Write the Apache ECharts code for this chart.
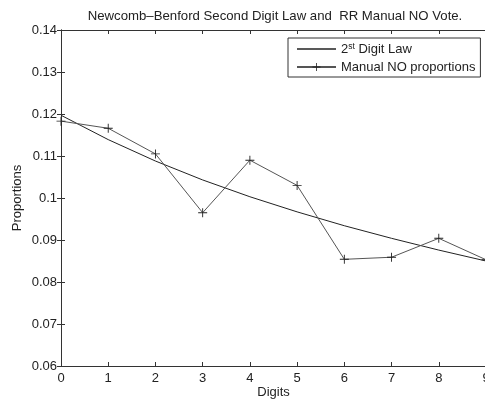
<!DOCTYPE html>
<html>
<head>
<meta charset="utf-8">
<script src="https://cdn.jsdelivr.net/npm/echarts@6/dist/echarts.min.js"></script>
<style>html,body{margin:0;padding:0;background:#fff}#c{width:485px;height:401px}</style>
</head>
<body>
<div id="c"></div>
<script>
var digits = ['0','1','2','3','4','5','6','7','8','9'];
var lawValues = [0.1197, 0.1139, 0.1088, 0.1043, 0.1003, 0.0967, 0.0934, 0.0904, 0.0876, 0.0850];
var noValues = [0.1183, 0.1166, 0.1105, 0.0965, 0.1090, 0.1030, 0.0854, 0.0859, 0.0904, 0.0853];
var yTicks = [0.06, 0.07, 0.08, 0.09, 0.1, 0.11, 0.12, 0.13, 0.14];

var FONT = 'Liberation Sans, Arial, sans-serif';
var chart = echarts.init(document.getElementById('c'));
var plus = 'path://M0,4.5h10v1h-10zM4.5,0h1v10h-1z';
function pairs(v){ return v.map(function(y,i){ return [i, y]; }); }
var axisCol = '#333';
var txt = '#222';
chart.setOption({
  animation: false,
  backgroundColor: '#fff',
  title: {
    text: 'Newcomb\u2013Benford Second Digit Law and  RR Manual NO Vote.',
    left: 270, top: 5, textAlign: 'center',
    textStyle: {fontFamily: FONT, fontSize: 13.2, fontWeight: 'normal', color: txt}
  },
  grid: {left: 61, right: -1, top: 30, bottom: 35, outerBoundsMode: 'none', containLabel: false},
  legend: {
    orient: 'vertical', left: 288, top: 38,
    padding: [4, 5, 3, 8], itemGap: 4,
    borderColor: '#333', borderWidth: 1, borderRadius: 0,
    backgroundColor: '#fff',
    itemWidth: 39, itemHeight: 10,
    selectedMode: false,
    data: [{name: 'law', icon: 'path://M0,0h40v1.4h-40z'}, {name: 'no'}],
    formatter: function(n){
      return n === 'law' ? '{a|2}{s|st}{a| Digit Law}' : '{a|Manual NO proportions}';
    },
    textStyle: {
      fontFamily: FONT, fontSize: 13, color: txt, lineHeight: 14,
      rich: {
        a: {fontFamily: FONT, fontSize: 13, color: txt, lineHeight: 14},
        s: {fontFamily: FONT, fontSize: 8.5, color: txt, lineHeight: 8, verticalAlign: 'top'}
      }
    }
  },
  xAxis: [{
    type: 'value', min: 0, max: 9, interval: 1, position: 'bottom',
    name: 'Digits', nameLocation: 'middle', nameGap: 20, nameMoveOverlap: false,
    nameTextStyle: {fontFamily: FONT, fontSize: 13, color: txt},
    axisLine: {lineStyle: {color: axisCol, width: 1}},
    axisTick: {inside: true, length: 4, lineStyle: {color: axisCol}},
    axisLabel: {margin: 6, fontFamily: FONT, fontSize: 13, color: txt,
      formatter: function(v){ return digits[v]; }},
    splitLine: {show: false}
  }, {
    type: 'value', min: 0, max: 9, interval: 1, position: 'top',
    axisLine: {lineStyle: {color: axisCol, width: 1}},
    axisTick: {inside: true, length: 4, lineStyle: {color: axisCol}},
    axisLabel: {show: false}, splitLine: {show: false}
  }],
  yAxis: [{
    type: 'value', min: 0.06, max: 0.14, interval: 0.01, position: 'left',
    name: 'Proportions', nameLocation: 'middle', nameGap: 37, nameRotate: 90, nameMoveOverlap: false,
    nameTextStyle: {fontFamily: FONT, fontSize: 13, color: txt},
    axisLine: {show: true, lineStyle: {color: axisCol, width: 1}},
    axisTick: {show: true, inside: true, length: 4, lineStyle: {color: axisCol}},
    axisLabel: {margin: 4, fontFamily: FONT, fontSize: 13, color: txt,
      formatter: function(v){ var t = yTicks.reduce(function(b,c){ return Math.abs(c-v)<Math.abs(b-v)?c:b; }); return String(t); }},
    splitLine: {show: false}
  }, {
    type: 'value', min: 0.06, max: 0.14, interval: 0.01, position: 'right',
    axisLine: {show: true, lineStyle: {color: axisCol, width: 1}},
    axisTick: {show: true, inside: true, length: 4, lineStyle: {color: axisCol}},
    axisLabel: {show: false}, splitLine: {show: false}
  }],
  series: [{
    name: 'law', type: 'line', data: pairs(lawValues),
    symbol: 'none', lineStyle: {color: '#222', width: 1}, itemStyle: {color: '#222'}
  }, {
    name: 'no', type: 'line', data: pairs(noValues),
    symbol: plus, symbolSize: 9, showAllSymbol: true,
    lineStyle: {color: '#555', width: 1}, itemStyle: {color: '#222'}
  }]
});
</script>
</body>
</html>
